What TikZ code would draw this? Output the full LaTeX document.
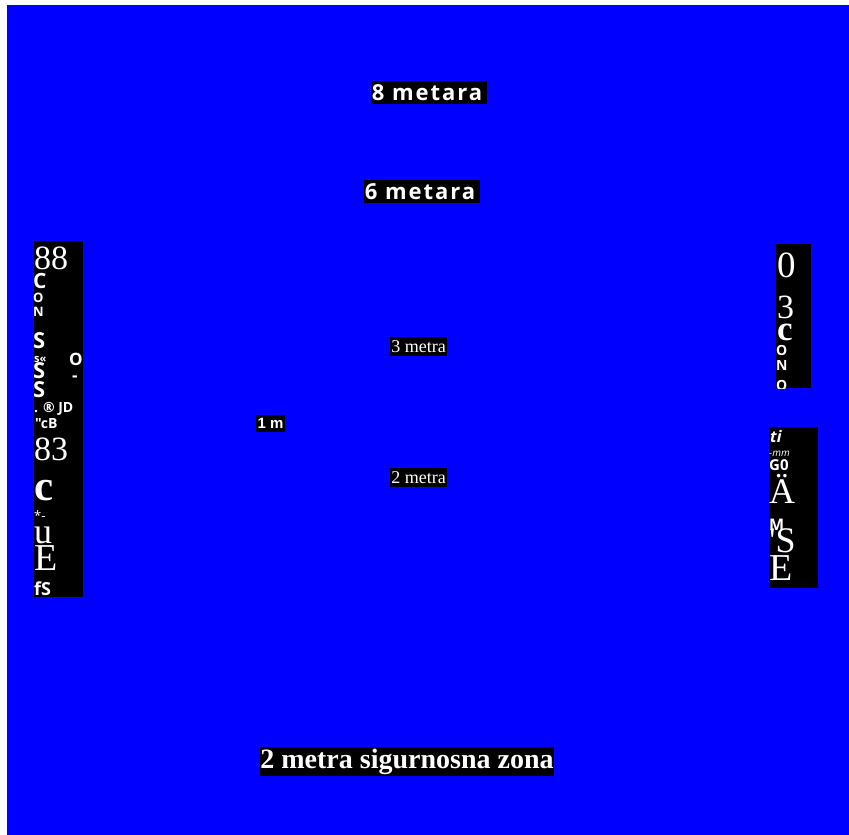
\documentclass[tikz,border=0pt]{standalone}
\usepackage{fontspec}
\setmainfont{Liberation Serif}
\newfontfamily\rmplain[Ligatures=TeXOff]{Liberation Serif}
\newfontfamily\os{Open Sans}
\newfontfamily\osspaced[LetterSpace=9]{Open Sans}
\newfontfamily\lsans{Liberation Sans}
\newcommand\fsz[1]{\fontsize{#1}{#1}\selectfont}
\begin{document}
\begin{tikzpicture}[x=1pt,y=-1pt,
  lbl/.style={fill=black,text=white,inner sep=0pt,anchor=center},
  wide/.style={lbl,minimum width=116pt,minimum height=23pt},
  colbox/.style={fill=black,inner sep=0pt,anchor=north west},
  tw/.style={text=white,inner sep=0pt,anchor=base west},
]
\useasboundingbox (0,0) rectangle (849,835);
\fill[white] (0,0) rectangle (849,835);
\fill[blue] (7,5) rectangle (849,835);

% centre labels
\node[wide] (m8) at (429,92.5) {\osspaced\bfseries\fsz{22}8 metara\kern4pt};
\node[wide] (m6) at (422,191.5) {\osspaced\bfseries\fsz{22}6 metara\kern4pt};
\node[lbl,minimum width=57pt,minimum height=19pt] (m3) at (418.5,346.5) {\fsz{18}3 metra};
\node[lbl,minimum width=29pt,minimum height=17pt] (m1) at (270.5,423.5) {\lsans\bfseries\fsz{15}1 m};
\node[lbl,minimum width=57pt,minimum height=19pt] (m2) at (418.5,477.5) {\fsz{18}2 metra};
\node[lbl,minimum width=294pt,minimum height=29pt] (zona) at (407,761.5) {\bfseries\fsz{28}2 metra sigurnosna zona};

% left column
\node[colbox,minimum width=49pt,minimum height=356pt] (L) at (34,241) {};
\node[tw] (l1) at (34,269) {\fsz{34}88};
\node[tw] (l2) at (33,288) {\os\bfseries\fsz{21}C};
\node[tw] (l3) at (33,302) {\os\bfseries\fsz{13}O};
\node[tw] (l4) at (33,316) {\os\bfseries\fsz{13}N};
\node[tw] (l5) at (33,348) {\os\bfseries\fsz{22}S};
\node[tw] (l6) at (34,362) {\os\bfseries\fsz{11}s«};
\node[tw] (l7) at (69,365) {\os\bfseries\fsz{17}O};
\node[tw] (l8) at (72,381) {\os\bfseries\fsz{17}-};
\node[tw] (l9) at (33,378) {\os\bfseries\fsz{22}S};
\node[tw] (l10) at (33,397) {\os\bfseries\fsz{22}S};
\node[tw] (l11) at (34,412) {\os\bfseries\fsz{14}. ® JD};
\node[tw] (l12) at (35,428) {\os\bfseries\fsz{14}"cB};
\node[tw] (l13) at (34,460) {\fsz{34}83};
\node[tw] (l14) at (34,500) {\bfseries\fsz{43}c};
\node[tw] (l15) at (34,520) {\os\fsz{13}*-};
\node[tw] (l16) at (34,543) {\fsz{36}u};
\node[tw] (l17) at (34,570) {\fsz{38}E};
\node[tw] (l18) at (34,595) {\os\bfseries\fsz{18}fS};

% right column, upper
\node[colbox,minimum width=35pt,minimum height=144pt] (R1) at (776,244) {};
\begin{scope}
\clip (776,244) rectangle (811,388);
\node[tw] (r1) at (777,277) {\fsz{37}0};
\node[tw] (r2) at (777,318) {\fsz{34}3};
\node[tw] (r3) at (777,340) {\bfseries\fsz{35}c};
\node[tw] (r4) at (776,355) {\os\bfseries\fsz{14}O};
\node[tw] (r5) at (776,370) {\os\bfseries\fsz{14}N};
\node[tw] (r6) at (776,390) {\os\bfseries\fsz{14}O};
\end{scope}

% right column, lower
\node[colbox,minimum width=49pt,minimum height=161pt] (R2) at (769,427) {};
\node[tw] (s1) at (770,442) {\os\bfseries\itshape\fsz{16}ti};
\node[tw] (s2) at (769,456) {\os\itshape\fsz{10}-mm};
\node[tw] (s3) at (769,470) {\os\bfseries\fsz{15}G0};
\node[tw] (s4) at (769,503) {\fsz{36}Ä};
\node[tw] (s5) at (769,530) {\os\bfseries\fsz{16}M};
\node[tw] (s6) at (769,552) {\rmplain\fsz{36}'S};
\node[tw] (s7) at (769,580) {\fsz{38}E};
\end{tikzpicture}
\end{document}
